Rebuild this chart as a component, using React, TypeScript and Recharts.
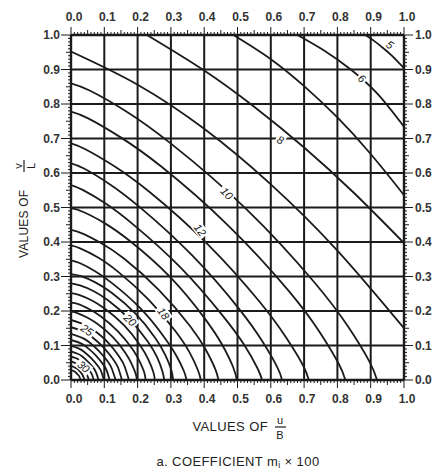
import React from 'react';
import { LineChart, Line, XAxis, YAxis, ReferenceLine, ReferenceDot } from 'recharts';

type Pt = [number, number];

// contour lines of m_i x 100 as [u/B, v/L]
const c5: Pt[] = [[0.884, 1], [0.91, 0.983], [0.94, 0.96], [0.965, 0.939], [1, 0.904]];
const c6: Pt[] = [[0.68, 1], [0.76, 0.955], [0.84, 0.9], [0.92, 0.83], [1, 0.734]];
const c7: Pt[] = [[0.488, 1], [0.6, 0.93], [0.7, 0.852], [0.8, 0.761], [0.9, 0.655], [1, 0.536]];
const c8: Pt[] = [[0.228, 1], [0.4, 0.897], [0.55, 0.792], [0.7, 0.674], [0.85, 0.542], [1, 0.397]];
const c9: Pt[] = [[0, 0.952], [0.2, 0.856], [0.4, 0.728], [0.6, 0.567], [0.8, 0.375], [1, 0.15]];
const c10: Pt[] = [[0, 0.86], [0.056, 0.839], [0.165, 0.779], [0.303, 0.683], [0.528, 0.494], [0.73, 0.284], [0.832, 0.155], [0.897, 0.052], [0.919, 0]];
const c11: Pt[] = [[0, 0.778], [0.05, 0.759], [0.148, 0.704], [0.272, 0.618], [0.473, 0.447], [0.655, 0.257], [0.746, 0.14], [0.804, 0.047], [0.824, 0]];
const c12: Pt[] = [[0, 0.686], [0.043, 0.669], [0.128, 0.621], [0.236, 0.545], [0.41, 0.394], [0.567, 0.226], [0.646, 0.123], [0.697, 0.042], [0.714, 0]];
const c13: Pt[] = [[0, 0.628], [0.039, 0.613], [0.114, 0.569], [0.209, 0.499], [0.364, 0.361], [0.504, 0.207], [0.574, 0.113], [0.619, 0.038], [0.634, 0]];
const c14: Pt[] = [[0, 0.565], [0.035, 0.551], [0.103, 0.512], [0.189, 0.449], [0.33, 0.325], [0.456, 0.186], [0.52, 0.102], [0.56, 0.034], [0.574, 0]];
const c15: Pt[] = [[0, 0.498], [0.037, 0.487], [0.102, 0.454], [0.178, 0.402], [0.298, 0.298], [0.402, 0.178], [0.454, 0.102], [0.487, 0.037], [0.498, 0]];
const c16: Pt[] = [[0, 0.435], [0.033, 0.425], [0.09, 0.397], [0.159, 0.352], [0.265, 0.26], [0.358, 0.156], [0.404, 0.089], [0.433, 0.032], [0.443, 0]];
const c17: Pt[] = [[0, 0.39], [0.029, 0.381], [0.08, 0.356], [0.14, 0.315], [0.233, 0.233], [0.315, 0.14], [0.356, 0.08], [0.381, 0.029], [0.39, 0]];
const c18: Pt[] = [[0, 0.347], [0.026, 0.339], [0.071, 0.316], [0.124, 0.28], [0.208, 0.208], [0.28, 0.124], [0.316, 0.071], [0.339, 0.026], [0.347, 0]];
const c19: Pt[] = [[0, 0.307], [0.03, 0.301], [0.073, 0.283], [0.122, 0.253], [0.193, 0.193], [0.253, 0.122], [0.283, 0.073], [0.301, 0.03], [0.307, 0]];
const c20: Pt[] = [[0, 0.28], [0.027, 0.274], [0.067, 0.258], [0.111, 0.231], [0.176, 0.176], [0.231, 0.111], [0.258, 0.067], [0.274, 0.027], [0.28, 0]];
const c21: Pt[] = [[0, 0.252], [0.024, 0.247], [0.06, 0.232], [0.1, 0.208], [0.159, 0.159], [0.208, 0.1], [0.232, 0.06], [0.247, 0.024], [0.252, 0]];
const c22: Pt[] = [[0, 0.224], [0.022, 0.22], [0.054, 0.206], [0.089, 0.185], [0.141, 0.141], [0.185, 0.089], [0.206, 0.054], [0.22, 0.022], [0.224, 0]];
const c23: Pt[] = [[0, 0.198], [0.019, 0.194], [0.047, 0.182], [0.079, 0.163], [0.125, 0.125], [0.163, 0.079], [0.182, 0.047], [0.194, 0.019], [0.198, 0]];
const c24: Pt[] = [[0, 0.174], [0.042, 0.16], [0.069, 0.144], [0.11, 0.11], [0.144, 0.069], [0.16, 0.042], [0.174, 0]];
const c25: Pt[] = [[0, 0.153], [0.037, 0.141], [0.061, 0.126], [0.096, 0.096], [0.126, 0.061], [0.141, 0.037], [0.153, 0]];
const c26: Pt[] = [[0, 0.134], [0.032, 0.123], [0.053, 0.111], [0.084, 0.084], [0.111, 0.053], [0.123, 0.032], [0.134, 0]];
const c27: Pt[] = [[0, 0.116], [0.028, 0.107], [0.046, 0.096], [0.073, 0.073], [0.096, 0.046], [0.107, 0.028], [0.116, 0]];
const c28: Pt[] = [[0, 0.099], [0.024, 0.091], [0.039, 0.082], [0.062, 0.062], [0.082, 0.039], [0.091, 0.024], [0.099, 0]];
const c29: Pt[] = [[0, 0.083], [0.02, 0.076], [0.033, 0.069], [0.052, 0.052], [0.069, 0.033], [0.076, 0.02], [0.083, 0]];
const c30: Pt[] = [[0, 0.068], [0.016, 0.063], [0.027, 0.056], [0.043, 0.043], [0.056, 0.027], [0.063, 0.016], [0.068, 0]];
const c31: Pt[] = [[0, 0.054], [0.021, 0.045], [0.034, 0.034], [0.045, 0.021], [0.054, 0]];
const c32: Pt[] = [[0, 0.041], [0.016, 0.034], [0.026, 0.026], [0.034, 0.016], [0.041, 0]];
const c33: Pt[] = [[0, 0.029], [0.012, 0.024], [0.018, 0.018], [0.024, 0.012], [0.029, 0]];

const contours = [c5, c6, c7, c8, c9, c10, c11, c12, c13, c14, c15, c16, c17, c18, c19, c20,
  c21, c22, c23, c24, c25, c26, c27, c28, c29, c30, c31, c32, c33];

// labels written on the curves
const labelText = ['5', '6', '8', '10', '12', '18', '20', '25', '30'];
const labelU = [0.958, 0.874, 0.629, 0.468, 0.388, 0.278, 0.178, 0.048, 0.038];
const labelV = [0.972, 0.874, 0.696, 0.541, 0.435, 0.193, 0.174, 0.145, 0.039];
const labelAngle = [35, 40, 25, 45, 52, 55, 45, 35, 40];

const gridLines = [0.1, 0.2, 0.3, 0.4, 0.5, 0.6, 0.7, 0.8, 0.9];
const minorTicks = Array.from({ length: 101 }, (_, i) => i / 100);

const INK = '#1b1b1b';
const FONT = '"Liberation Sans", Arial, sans-serif';

const tickLen = (v: number) => {
  const i = Math.round(v * 100);
  return i % 10 === 0 ? 8 : i % 5 === 0 ? 5 : 3;
};
const isMajor = (v: number) => Math.round(v * 100) % 10 === 0;

const tickText = { fontFamily: FONT, fontSize: 12, fontWeight: 700, fill: '#333' } as const;

const BottomTick = ({ x, y, payload }: any) => (
  <g>
    <line x1={x} y1={y} x2={x} y2={y + tickLen(payload.value)} stroke={INK} strokeWidth={1} />
    {isMajor(payload.value) && (
      <text x={x + 3} y={y + 23} textAnchor="middle" {...tickText}>{payload.value.toFixed(1)}</text>
    )}
  </g>
);

const TopTick = ({ x, y, payload }: any) => (
  <g>
    <line x1={x} y1={y} x2={x} y2={y - tickLen(payload.value)} stroke={INK} strokeWidth={1} />
    {isMajor(payload.value) && (
      <text x={x + 3} y={y - 14} textAnchor="middle" {...tickText}>{payload.value.toFixed(1)}</text>
    )}
  </g>
);

const LeftTick = ({ x, y, payload }: any) => (
  <g>
    <line x1={x} y1={y} x2={x - tickLen(payload.value) - (isMajor(payload.value) ? 2 : 0)} y2={y} stroke={INK} strokeWidth={1} />
    {isMajor(payload.value) && (
      <text x={x - 11} y={y + 4} textAnchor="end" {...tickText}>{payload.value.toFixed(1)}</text>
    )}
  </g>
);

const RightTick = ({ x, y, payload }: any) => (
  <g>
    <line x1={x} y1={y} x2={x + tickLen(payload.value) + (isMajor(payload.value) ? 1 : 0)} y2={y} stroke={INK} strokeWidth={1} />
    {isMajor(payload.value) && (
      <text x={x + 11} y={y + 4} textAnchor="start" {...tickText}>{payload.value.toFixed(1)}</text>
    )}
  </g>
);

const ContourLabel = ({ cx, cy, text, angle }: any) => {
  const w = text.length * 6.5 + 3;
  return (
    <g transform={`translate(${cx},${cy}) rotate(${angle})`}>
      <rect x={-w / 2} y={-5.5} width={w} height={11} fill="#fff" />
      <text x={0} y={4} textAnchor="middle" fontFamily={FONT} fontSize={11} fontStyle="italic" fill={INK}>
        {text}
      </text>
    </g>
  );
};

const toData = (pts: Pt[]) => pts.map(([x, y]) => ({ x, y }));

const titleText = { fontFamily: FONT, fontSize: 13, fill: '#222', letterSpacing: 0.4 } as const;

export default function App() {
  return (
    <div style={{ position: 'absolute', left: 0, top: 0, width: 437, height: 471, background: '#fff' }}>
      <LineChart width={437} height={471} margin={{ top: 10, right: 8, bottom: 66, left: 41 }}>
        <XAxis xAxisId="b" type="number" dataKey="x" domain={[0, 1]} allowDataOverflow ticks={minorTicks} interval={0}
          tickLine={false} axisLine={false} tickSize={0} tickMargin={0} height={25} tick={(p: any) => <BottomTick {...p} />} />
        <XAxis xAxisId="t" orientation="top" type="number" dataKey="x" domain={[0, 1]} allowDataOverflow ticks={minorTicks} interval={0}
          tickLine={false} axisLine={false} tickSize={0} tickMargin={0} height={25} tick={(p: any) => <TopTick {...p} />} />
        <YAxis yAxisId="l" type="number" domain={[0, 1]} allowDataOverflow ticks={minorTicks} interval={0}
          tickLine={false} axisLine={false} tickSize={0} tickMargin={0} width={30} tick={(p: any) => <LeftTick {...p} />} />
        <YAxis yAxisId="r" orientation="right" type="number" domain={[0, 1]} allowDataOverflow ticks={minorTicks} interval={0}
          tickLine={false} axisLine={false} tickSize={0} tickMargin={0} width={25} tick={(p: any) => <RightTick {...p} />} />

        {gridLines.map((v) => (
          <ReferenceLine key={`gx${v}`} x={v} xAxisId="b" yAxisId="l" stroke={INK} strokeWidth={2} />
        ))}
        {gridLines.map((v) => (
          <ReferenceLine key={`gy${v}`} y={v} xAxisId="b" yAxisId="l" stroke={INK} strokeWidth={2} />
        ))}

        {contours.map((pts, i) => (
          <Line key={i} data={toData(pts)} dataKey="y" xAxisId="b" yAxisId="l" type="natural"
            stroke={INK} strokeWidth={1.8} dot={false} activeDot={false} isAnimationActive={false} />
        ))}

        {[0, 1].map((v) => (
          <ReferenceLine key={`fx${v}`} x={v} xAxisId="b" yAxisId="l" stroke={INK} strokeWidth={2.4} />
        ))}
        {[0, 1].map((v) => (
          <ReferenceLine key={`fy${v}`} y={v} xAxisId="b" yAxisId="l" stroke={INK} strokeWidth={2.4} />
        ))}

        {labelText.map((t, i) => (
          <ReferenceDot key={t} x={labelU[i]} y={labelV[i]} xAxisId="b" yAxisId="l" r={0} ifOverflow="visible"
            shape={(p: any) => <ContourLabel {...p} text={t} angle={labelAngle[i]} />} />
        ))}
      </LineChart>

      <svg width={437} height={471} style={{ position: 'absolute', left: 0, top: 0, pointerEvents: 'none' }}>
        {/* x axis title */}
        <text x={268} y={431} textAnchor="end" {...titleText}>VALUES OF</text>
        <text x={280} y={424} textAnchor="middle" fontFamily={FONT} fontSize={11} fill="#222">u</text>
        <line x1={275} y1={427} x2={286} y2={427} stroke="#222" strokeWidth={1.2} />
        <text x={280} y={439} textAnchor="middle" fontFamily={FONT} fontSize={11} fill="#222">B</text>

        {/* y axis title */}
        <g transform="translate(28,258) rotate(-90)">
          <text x={0} y={0} {...titleText} fontSize={12} letterSpacing={0.2}>VALUES OF</text>
          <text x={92} y={-6} textAnchor="middle" fontFamily={FONT} fontSize={11} fill="#222">v</text>
          <line x1={86} y1={-4} x2={98} y2={-4} stroke="#222" strokeWidth={1.2} />
          <text x={92} y={7} textAnchor="middle" fontFamily={FONT} fontSize={11} fill="#222">L</text>
        </g>

        <text x={238} y={466} textAnchor="middle" {...titleText}>
          a. COEFFICIENT m<tspan fontSize={9} dy={2}>i</tspan><tspan dy={-2}> × 100</tspan>
        </text>
      </svg>
    </div>
  );
}
